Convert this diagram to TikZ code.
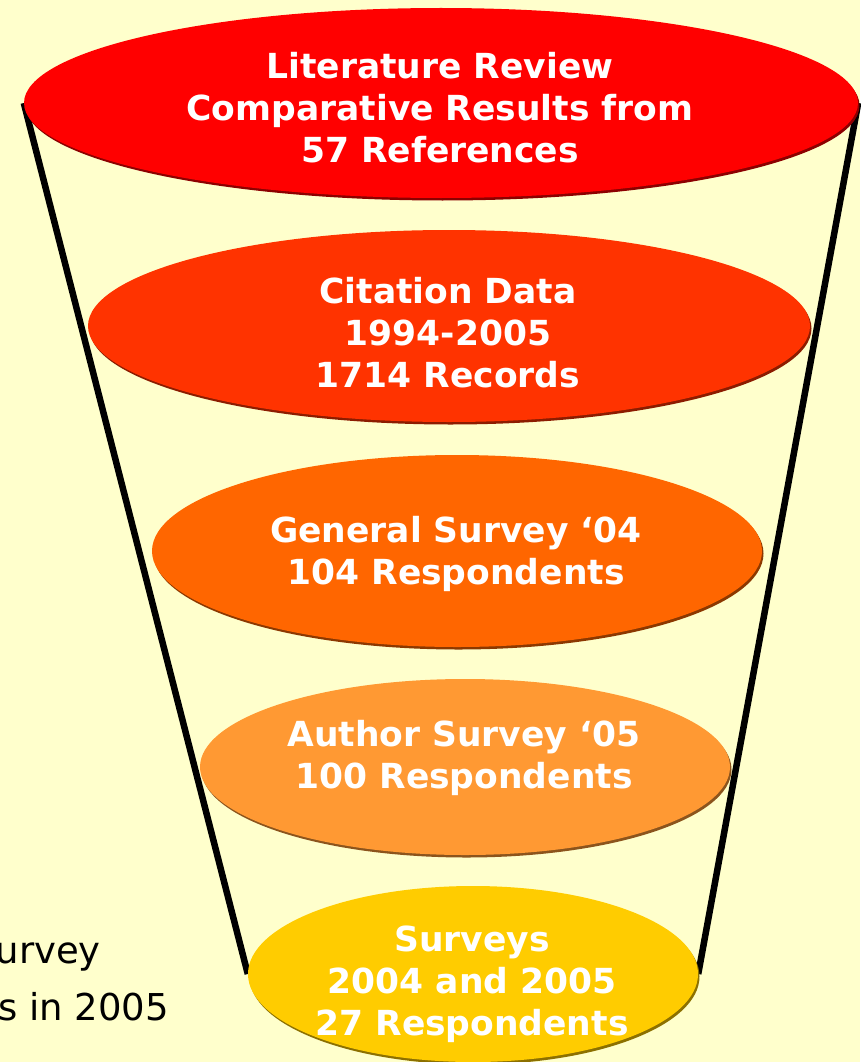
\documentclass[tikz,border=0pt]{standalone}
\usepackage{fontspec}
\setmainfont{DejaVu Sans}
\usepackage{tikz}
\usetikzlibrary{positioning,shapes,shadows,backgrounds}

\definecolor{paper}{HTML}{FFFFCC}
\definecolor{level1}{HTML}{FF0000}
\definecolor{level2}{HTML}{FF3300}
\definecolor{level3}{HTML}{FF6600}
\definecolor{level4}{HTML}{FF9933}
\definecolor{level5}{HTML}{FFCC00}

\tikzset{
  stage/.style={ellipse, fill=#1, inner sep=0pt,
    drop shadow={shadow xshift=1.5pt, shadow yshift=-2.5pt, fill=#1!55!black, opacity=1}},
  caption/.style={align=center, text=white, inner sep=0pt,
    font=\bfseries\fontsize{34.5}{42}\selectfont},
  side/.style={font=\fontsize{37}{44}\selectfont, anchor=base east, inner sep=0pt}
}

\begin{document}
\begin{tikzpicture}[x=1pt, y=-1pt]
          \useasboundingbox (0,0) rectangle (860,1062);

          \node[stage=level1, minimum width=834pt, minimum height=190pt] (n1) at (441,103) {};
          \node[stage=level2, minimum width=722pt, minimum height=192pt] (n2) at (449,326) {};
          \node[stage=level3, minimum width=610pt, minimum height=192pt] (n3) at (457,551) {};
          \node[stage=level4, minimum width=530pt, minimum height=176pt] (n4) at (465,767) {};
          \node[stage=level5, minimum width=450pt, minimum height=176pt] (n5) at (473,974) {};

          \node[caption] (t1) at (440,108) {Literature Review\\Comparative Results from\\57 References};
          \node[caption] (t2) at (448,333) {Citation Data\\1994-2005\\1714 Records};
          \node[caption] (t3) at (456,554) {General Survey ‘04\\104 Respondents};
          \node[caption] (t4) at (464,758) {Author Survey ‘05\\100 Respondents};
          \node[caption] (t5) at (472,984) {Surveys\\2004 and 2005\\27 Respondents};

          \node[side] (s1) at (101,963) {urvey};
          \node[side] (s2) at (169,1020) {s in 2005};

          \begin{pgfonlayer}{background}
            \fill[paper] (0,0) rectangle (860,1062);
            \draw[line width=6.5pt] (n1.west) -- (n5.west);
            \draw[line width=6.5pt] (n1.east) -- (n5.east);
          \end{pgfonlayer}
        \end{tikzpicture}
\end{document}
